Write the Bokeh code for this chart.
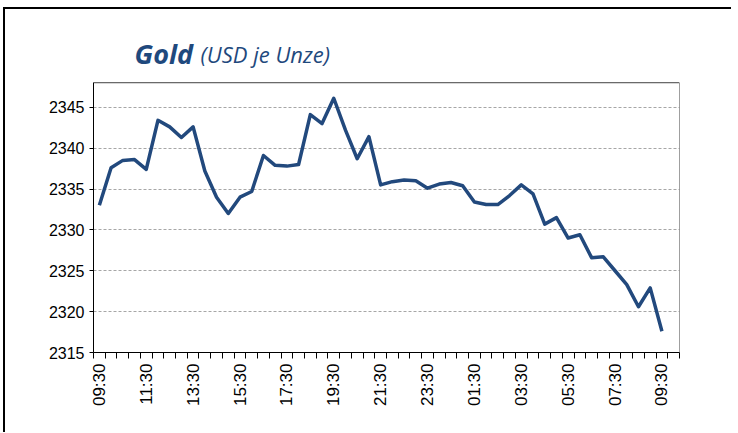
from bokeh.plotting import figure
from bokeh.models import Range1d, FixedTicker, Label
from bokeh.embed import file_html
from bokeh.resources import INLINE

# ---- data ----
times = ["09:30", "10:00", "10:30", "11:00", "11:30", "12:00", "12:30", "13:00",
         "13:30", "14:00", "14:30", "15:00", "15:30", "16:00", "16:30", "17:00",
         "17:30", "18:00", "18:30", "19:00", "19:30", "20:00", "20:30", "21:00",
         "21:30", "22:00", "22:30", "23:00", "23:30", "00:00", "00:30", "01:00",
         "01:30", "02:00", "02:30", "03:00", "03:30", "04:00", "04:30", "05:00",
         "05:30", "06:00", "06:30", "07:00", "07:30", "08:00", "08:30", "09:00",
         "09:30"]
gold = [2333.0, 2337.6, 2338.5, 2338.6, 2337.4, 2343.4, 2342.6, 2341.3, 2342.6, 2337.2,
        2334.0, 2332.0, 2334.0, 2334.7, 2339.1, 2337.9, 2337.8, 2338.0, 2344.1, 2343.0,
        2346.1, 2342.2, 2338.7, 2341.4, 2335.5, 2335.9, 2336.1, 2336.0, 2335.1, 2335.6,
        2335.8, 2335.4, 2333.4, 2333.1, 2333.1, 2334.2, 2335.5, 2334.4, 2330.7, 2331.5,
        2329.0, 2329.4, 2326.6, 2326.7, 2325.0, 2323.3, 2320.6, 2322.9, 2317.6]
y_ticks = [2315, 2320, 2325, 2330, 2335, 2340, 2345]
y_min, y_max = 2315, 2348
label_every = 4
n_slots = len(times) + 1  # one empty category slot at the end

x = [i + 0.5 for i in range(len(times))]

LINE = "#22497D"
TITLE = "#1F497D"

# the frame is extended upwards so the title (drawn as labels) stays visible;
# the visible plot box is drawn up to y_max
p = figure(frame_width=586, frame_height=327, output_backend="svg", toolbar_location=None,
           x_range=Range1d(0, n_slots), y_range=Range1d(y_min, 2355),
           min_border_left=88, min_border_right=52, min_border_top=16,
           min_border_bottom=80)
p.styles = {"border-top": "2px solid black", "border-left": "2px solid black",
            "margin-top": "7px", "margin-left": "3px"}

p.outline_line_color = None
p.background_fill_color = "white"
p.border_fill_color = "white"

p.ygrid.ticker = FixedTicker(ticks=y_ticks[1:], minor_ticks=[])
p.xgrid.grid_line_color = None
p.ygrid.grid_line_color = "#A6A6A6"
p.ygrid.grid_line_dash = "3 2"
p.ygrid.grid_line_width = 1

# plot box (top and right edges)
p.line([0, n_slots, n_slots], [y_max, y_max, y_min], line_color="#404040", line_width=1)

p.line(x, gold, line_color=LINE, line_width=3.5, line_join="round")

# x axis
major = [i + 0.5 for i in range(0, len(times), label_every)]
p.xaxis.ticker = FixedTicker(ticks=major, minor_ticks=list(range(0, n_slots + 1)))
p.xaxis.major_label_overrides = {i + 0.5: times[i] for i in range(0, len(times), label_every)}
p.xaxis.major_label_orientation = 1.5707963267948966
p.xaxis.major_tick_line_color = None
p.xaxis.major_tick_out = 6
p.xaxis.major_tick_in = 0
p.xaxis.minor_tick_out = 6
p.xaxis.minor_tick_in = 0
p.xaxis.minor_tick_line_color = "black"
p.xaxis.axis_line_color = "black"
p.xaxis.major_label_standoff = 5
p.xaxis.major_label_text_font = "Liberation Sans"
p.xaxis.major_label_text_font_size = "17px"
p.xaxis.major_label_text_color = "black"

# y axis
p.yaxis.ticker = FixedTicker(ticks=y_ticks, minor_ticks=[])
p.yaxis.bounds = (y_min, y_max)
p.yaxis.major_tick_out = 4
p.yaxis.major_tick_in = 0
p.yaxis.major_tick_line_color = "black"
p.yaxis.axis_line_color = "black"
p.yaxis.major_label_standoff = 5
p.yaxis.major_label_text_font = "Liberation Sans"
p.yaxis.major_label_text_font_size = "16px"
p.yaxis.major_label_text_color = "black"

# title
p.add_layout(Label(x=41, y=299, x_units="screen", y_units="screen", text="Gold",
                   text_font="Open Sans", text_font_style="bold italic",
                   text_font_size="27px", text_color=TITLE,
                   text_baseline="alphabetic"))
p.add_layout(Label(x=107, y=299, x_units="screen", y_units="screen", text="(USD je Unze)",
                   text_font="Open Sans", text_font_style="italic",
                   text_font_size="22px", text_color=TITLE,
                   text_baseline="alphabetic"))

open("out.html", "w").write(file_html(p, INLINE))
